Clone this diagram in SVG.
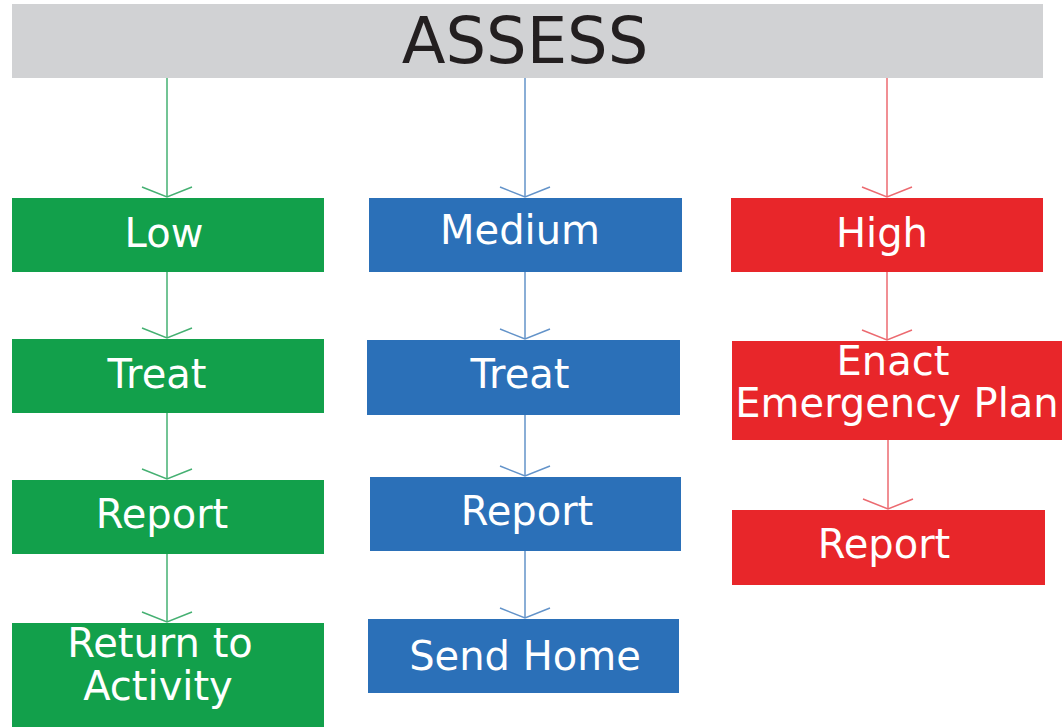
<svg xmlns="http://www.w3.org/2000/svg" width="1062" height="727" viewBox="0 0 1062 727">
<style>
.lbl{font-family:"DejaVu Sans","Liberation Sans",sans-serif;font-size:40px;fill:#ffffff;text-anchor:middle}
.hdr{font-family:"DejaVu Sans","Liberation Sans",sans-serif;font-size:64px;fill:#231f20;text-anchor:middle}
.g{fill:#12a04b}.b{fill:#2b70b8}.r{fill:#e8262a}
.cg{stroke:#45b072;stroke-width:1.5;fill:none}
.cb{stroke:#6393c9;stroke-width:1.5;fill:none}
.cr{stroke:#ec6a70;stroke-width:1.5;fill:none}
</style>
<defs>
<marker id="mg" viewBox="-12 -27 14 54" markerWidth="14" markerHeight="54" refX="0" refY="0" orient="auto" markerUnits="userSpaceOnUse"><path d="M-10,-25 L0,0 L-10,25" fill="none" stroke="#45b072" stroke-width="1.5"/></marker>
<marker id="mb" viewBox="-12 -27 14 54" markerWidth="14" markerHeight="54" refX="0" refY="0" orient="auto" markerUnits="userSpaceOnUse"><path d="M-10,-25 L0,0 L-10,25" fill="none" stroke="#6393c9" stroke-width="1.5"/></marker>
<marker id="mr" viewBox="-12 -27 14 54" markerWidth="14" markerHeight="54" refX="0" refY="0" orient="auto" markerUnits="userSpaceOnUse"><path d="M-10,-25 L0,0 L-10,25" fill="none" stroke="#ec6a70" stroke-width="1.5"/></marker>
</defs>
<rect width="1062" height="727" fill="#ffffff"/>
<g id="assess"><rect x="12" y="4" width="1031" height="74" fill="#d1d2d4"/><text class="hdr" x="525" y="63">ASSESS</text></g>
<g id="connectors">
<line class="cg" x1="167" y1="78" x2="167" y2="197" marker-end="url(#mg)"/>
<line class="cg" x1="167" y1="272" x2="167" y2="338" marker-end="url(#mg)"/>
<line class="cg" x1="167" y1="413" x2="167" y2="479" marker-end="url(#mg)"/>
<line class="cg" x1="167" y1="554" x2="167" y2="622" marker-end="url(#mg)"/>
<line class="cb" x1="525" y1="78" x2="525" y2="197" marker-end="url(#mb)"/>
<line class="cb" x1="525" y1="272" x2="525" y2="339" marker-end="url(#mb)"/>
<line class="cb" x1="525" y1="415" x2="525" y2="476" marker-end="url(#mb)"/>
<line class="cb" x1="525" y1="551" x2="525" y2="618" marker-end="url(#mb)"/>
<line class="cr" x1="887" y1="78" x2="887" y2="197" marker-end="url(#mr)"/>
<line class="cr" x1="887" y1="272" x2="887" y2="340" marker-end="url(#mr)"/>
<line class="cr" x1="888" y1="440" x2="888" y2="509" marker-end="url(#mr)"/>
</g>
<g id="low"><rect class="g" x="12" y="198" width="312" height="74"/><text class="lbl" x="164" y="247">Low</text></g>
<g id="treat-low"><rect class="g" x="12" y="339" width="312" height="74"/><text class="lbl" x="157" y="388">Treat</text></g>
<g id="report-low"><rect class="g" x="12" y="480" width="312" height="74"/><text class="lbl" x="162" y="528">Report</text></g>
<g id="return"><rect class="g" x="12" y="623" width="312" height="104"/><text class="lbl" x="160" y="657">Return to</text><text class="lbl" x="158" y="700">Activity</text></g>
<g id="medium"><rect class="b" x="369" y="198" width="313" height="74"/><text class="lbl" x="520" y="244">Medium</text></g>
<g id="treat-med"><rect class="b" x="367" y="340" width="313" height="75"/><text class="lbl" x="520" y="388">Treat</text></g>
<g id="report-med"><rect class="b" x="370" y="477" width="311" height="74"/><text class="lbl" x="527" y="525">Report</text></g>
<g id="sendhome"><rect class="b" x="368" y="619" width="311" height="74"/><text class="lbl" x="525" y="670">Send Home</text></g>
<g id="high"><rect class="r" x="731" y="198" width="312" height="74"/><text class="lbl" x="882" y="247">High</text></g>
<g id="enact"><rect class="r" x="732" y="341" width="330" height="99"/><text class="lbl" x="893" y="375">Enact</text><text class="lbl" x="897" y="417">Emergency Plan</text></g>
<g id="report-high"><rect class="r" x="732" y="510" width="313" height="75"/><text class="lbl" x="884" y="558">Report</text></g>
</svg>
